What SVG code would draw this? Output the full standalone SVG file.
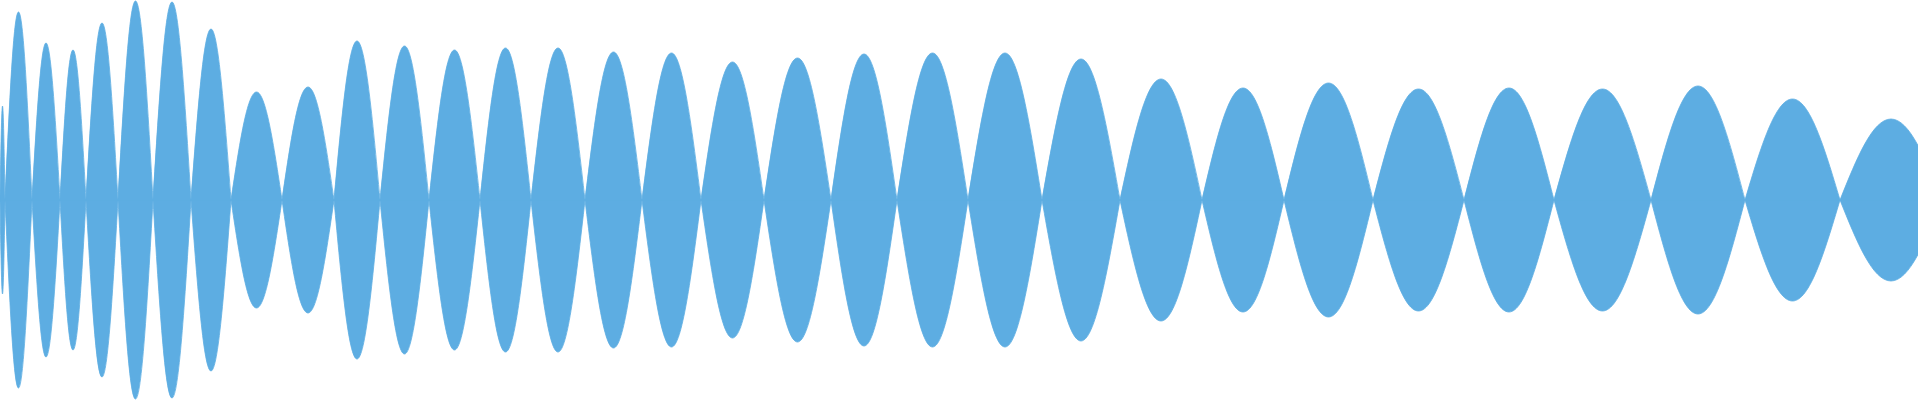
<svg xmlns="http://www.w3.org/2000/svg" xmlns:xlink="http://www.w3.org/1999/xlink" width="1920" height="400" viewBox="0 0 1920 400">
<style>.wave{fill:#5dade2;stroke:#5dade2;stroke-width:0.8}</style>
<rect width="1920" height="400" fill="#ffffff"/>
<defs>
<clipPath id="c"><rect x="0" y="0" width="1918" height="400"/></clipPath>
<path id="half" d="M0,200 C0.8,151 1.6,106 2.5,106 C3.4,106 4.2,151 5,200
C9.5,102 13.6,12 18.5,12 C23.4,12 27.5,102 32,200
C36.6,118 41,43 46,43 C51,43 55.4,118 60,200
C64.3,122 68.3,50 73,50 C77.7,50 81.7,122 86,200
C91.3,108 96.2,23 102,23 C107.8,23 112.7,108 118,200
C123.8,97 129.2,1 135.5,1 C141.8,1 147.2,97 153,200
C159.3,97 165.2,2 172,2 C178.8,2 184.7,97 191,200
C197.6,111 203.8,29 211,29 C218.2,29 224.4,111 231,200
C239.4,144 247.3,92 256.5,92 C265.7,92 273.6,144 282,200
C290.6,141 298.6,87 308,87 C317.4,87 325.4,141 334,200
C341.6,117 348.7,41 357,41 C365.3,41 372.4,117 380,200
C388.1,120 395.7,46 404.5,46 C413.3,46 420.9,120 429,200
C437.4,122 445.3,50 454.5,50 C463.7,50 471.6,122 480,200
C488.4,121 496.3,48 505.5,48 C514.7,48 522.6,121 531,200
C539.9,121 548.3,48 558,48 C567.7,48 576.1,121 585,200
C594.4,123 603.2,52 613.5,52 C623.8,52 632.6,123 642,200
C651.7,124 660.9,53 671.5,53 C682.1,53 691.3,124 701,200
C711.4,128 721.2,62 732.5,62 C743.8,62 753.6,128 764,200
C775.1,126 785.4,58 797.5,58 C809.6,58 819.9,126 831,200
C841.9,124 852.1,54 864,54 C875.9,54 886.1,124 897,200
C908.7,124 919.7,53 932.5,53 C945.3,53 956.3,124 968,200
C980.2,124 991.7,53 1005,53 C1018.3,53 1029.8,124 1042,200
C1054.9,127 1067,59 1081,59 C1095,59 1107.1,127 1120,200
C1133.5,137 1146.2,79 1161,79 C1175.8,79 1188.5,137 1202,200
C1215.5,142 1228.2,88 1243,88 C1257.8,88 1270.5,142 1284,200
C1298.7,139 1312.5,83 1328.5,83 C1344.5,83 1358.3,139 1373,200
C1388,142 1402.1,89 1418.5,89 C1434.9,89 1449,142 1464,200
C1478.9,142 1492.8,88 1509,88 C1525.2,88 1539.1,142 1554,200
C1570,142 1585,89 1602.5,89 C1620,89 1635,142 1651,200
C1666.5,141 1681.1,86 1698,86 C1714.9,86 1729.5,141 1745,200
C1760.7,147 1775.4,99 1792.5,99 C1809.6,99 1824.3,147 1840,200
C1856.8,158 1872.6,119 1891,119 C1909.4,119 1925.2,158 1942,200 Z"/>
</defs>
<g id="waveform" clip-path="url(#c)">
<use xlink:href="#half" href="#half" class="wave"/>
<use xlink:href="#half" href="#half" class="wave" transform="matrix(1 0 0 -1 0 400)"/>
</g>
</svg>
